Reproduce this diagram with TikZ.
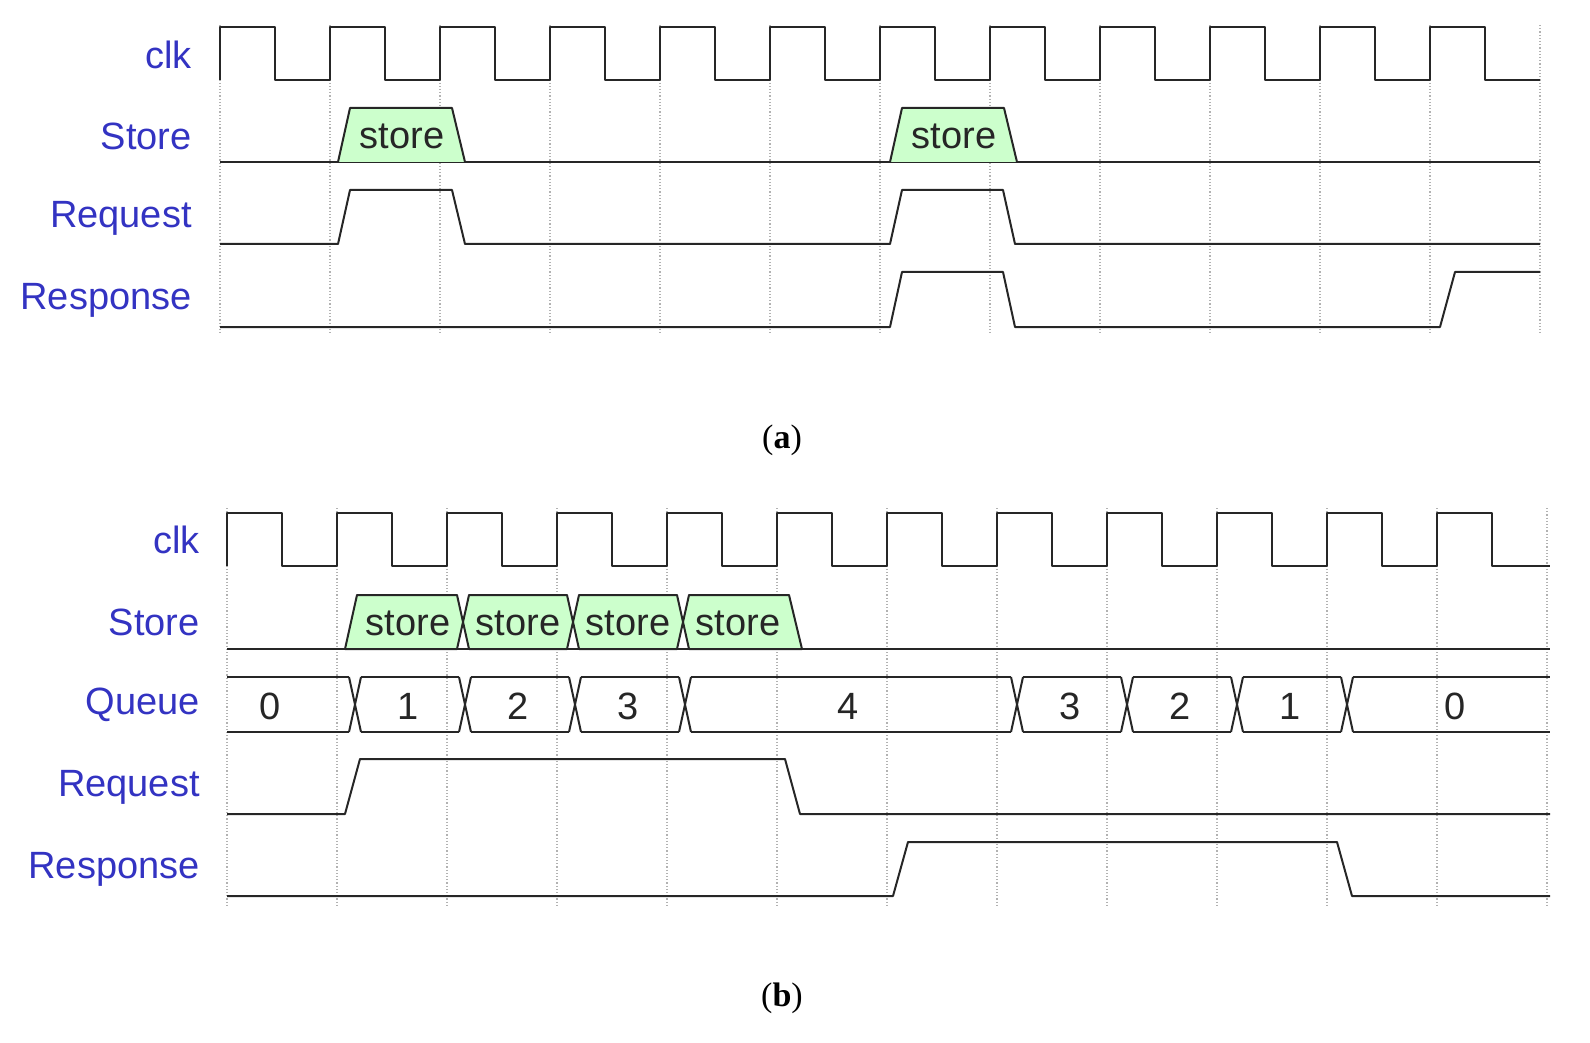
\documentclass[tikz,border=0pt]{standalone}
\usepackage{fontspec}
\setmainfont{Liberation Serif}
\newfontfamily\sig{Liberation Sans}
\begin{document}
\begin{tikzpicture}[x=0.5pt,y=-0.5pt,
  w/.style={line width=1pt,draw=black!85,line join=round},
  grid/.style={densely dotted,draw=black!30,line width=0.6pt},
  lab/.style={anchor=east,text=blue!70!black!80,font=\sig\fontsize{19}{22}\selectfont,inner sep=0},
  val/.style={font=\sig\fontsize{19}{22}\selectfont,inner sep=0,text=black!85},
  bus/.style={w,fill=green!20},
  capt/.style={font=\fontsize{17}{20}\selectfont}]
\useasboundingbox (0,0) rectangle (1590,1043);
% ===== (a) =====
\foreach \i in {0,...,12} \draw[grid] (220+110*\i,25) -- (220+110*\i,335);
\draw[w] (220,80) -- (220,27)
  \foreach \i in {0,...,10} {-- (220+110*\i,27) -- (275+110*\i,27) -- (275+110*\i,80) -- (330+110*\i,80) -- (330+110*\i,27)}
  -- (1485,27) -- (1485,80) -- (1540,80);
\draw[w] (220,162) -- (1540,162);
\foreach \a in {338,890}{
  \draw[bus] (\a,162) -- (\a+12,108) -- (\a+114,108) -- (\a+127,162);
  \node[val] at (\a+64,136) {store};}
\draw[w] (220,244) -- (338,244) -- (350,190) -- (452,190) -- (465,244) -- (890,244) -- (902,190) -- (1003,190) -- (1015,244) -- (1540,244);
\draw[w] (220,327) -- (890,327) -- (902,272) -- (1003,272) -- (1015,327) -- (1440,327) -- (1455,272) -- (1540,272);
\node[lab] at (192,55) {clk};
\node[lab] at (192,136) {Store};
\node[lab] at (192,218) {Request};
\node[lab] at (192,300) {Response};
\node[capt] at (782,440) {(\textbf{a})};
% ===== (b) =====
\foreach \i in {0,...,12} \draw[grid] (227+110*\i,508) -- (227+110*\i,905);
\draw[w] (227,566) -- (227,513)
  \foreach \i in {0,...,10} {-- (227+110*\i,513) -- (282+110*\i,513) -- (282+110*\i,566) -- (337+110*\i,566) -- (337+110*\i,513)}
  -- (1492,513) -- (1492,566) -- (1550,566);
\draw[w] (227,649) -- (1550,649);
\draw[bus] (345,649) -- (357,595) -- (457,595) -- (463,622) -- (469,595) -- (567,595) -- (573,622) -- (579,595) -- (677,595) -- (683,622) -- (689,595) -- (789,595) -- (802,649) -- (689,649) -- (683,622) -- (677,649) -- (579,649) -- (573,622) -- (567,649) -- (469,649) -- (463,622) -- (457,649) -- cycle;
\foreach \x in {408,518,628,738} \node[val] at (\x,623) {store};
% Queue
\foreach \x in {355,465,575,685,1017,1127,1237,1347}
  \draw[w] (\x-6,677) -- (\x+6,732) (\x-6,732) -- (\x+6,677);
\draw[w] (227,677) -- (349,677) (227,732) -- (349,732);
\foreach \a/\b in {361/459,471/569,581/679,691/1011,1023/1121,1133/1231,1243/1341}
  \draw[w] (\a,677) -- (\b,677) (\a,732) -- (\b,732);
\draw[w] (1353,677) -- (1550,677) (1353,732) -- (1550,732);
\foreach \x/\t in {270/0,408/1,518/2,628/3,848/4,1070/3,1180/2,1290/1,1455/0}
  \node[val] at (\x,706) {\t};
\draw[w] (227,814) -- (345,814) -- (360,759) -- (785,759) -- (800,814) -- (1550,814);
\draw[w] (227,896) -- (893,896) -- (908,842) -- (1337,842) -- (1352,896) -- (1550,896);
\node[lab] at (200,540) {clk};
\node[lab] at (200,622) {Store};
\node[lab] at (200,705) {Queue};
\node[lab] at (200,787) {Request};
\node[lab] at (200,869) {Response};
\node[capt] at (782,998) {(\textbf{b})};
\end{tikzpicture}
\end{document}
